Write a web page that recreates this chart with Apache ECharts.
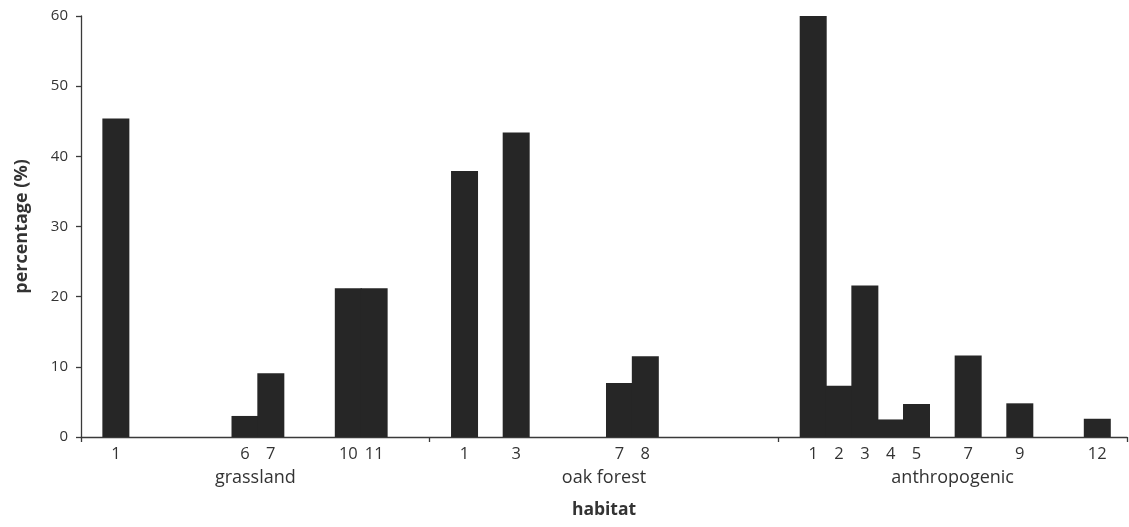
<!DOCTYPE html>
<html>
<head>
<meta charset="utf-8">
<script src="https://cdn.jsdelivr.net/npm/echarts@6/dist/echarts.min.js"></script>
<style>
html,body{margin:0;padding:0;background:#fff;}
#chart{width:1129px;height:527px;}
</style>
</head>
<body>
<div id="chart"></div>
<script>
// ---- data ----
const groups = ['grassland', 'oak forest', 'anthropogenic'];
const grasslandCats = [1, 6, 7, 10, 11];
const grasslandVals = [45.4, 3.0, 9.1, 21.2, 21.2];
const oakCats = [1, 3, 7, 8];
const oakVals = [37.9, 43.4, 7.7, 11.5];
const anthroCats = [1, 2, 3, 4, 5, 7, 9, 12];
const anthroVals = [60.0, 7.3, 21.6, 2.5, 4.7, 11.6, 4.8, 2.6];
const yTicks = [0, 10, 20, 30, 40, 50, 60];

// ---- layout of slots along the habitat axis ----
const GROUP_SPAN = 13.5;   // slots per habitat group
const SLOT_OFFSET = 0.35;  // offset of slot k inside its group
const catLists = [grasslandCats, oakCats, anthroCats];
const valLists = [grasslandVals, oakVals, anthroVals];

const barData = [];
catLists.forEach((cats, g) => {
  cats.forEach((k, i) => {
    barData.push({ value: [g * GROUP_SPAN + k + SLOT_OFFSET, valLists[g][i]], cat: k });
  });
});

const font = '"Open Sans", "Noto Sans", sans-serif';
const textColor = '#333';
const axisColor = '#3a3a3a';
const barColor = '#262626';

const chart = echarts.init(document.getElementById('chart'), null, { renderer: 'canvas' });
chart.setOption({
  animation: false,
  backgroundColor: '#fff',
  grid: { left: 81, right: 2, top: 16, bottom: 90 },
  xAxis: [
    {
      type: 'value',
      min: 0,
      max: GROUP_SPAN * groups.length,
      show: false,
      splitLine: { show: false }
    },
    {
      type: 'category',
      data: groups,
      position: 'bottom',
      boundaryGap: true,
      axisLine: { show: true, lineStyle: { color: axisColor, width: 1.3 } },
      axisTick: { show: true, length: 5, lineStyle: { color: axisColor, width: 1.3 } },
      axisLabel: { margin: 32, fontSize: 18, color: textColor, fontFamily: font },
      name: 'habitat',
      nameLocation: 'middle',
      nameGap: 64,
      nameTextStyle: { fontSize: 17.5, fontWeight: 'bold', color: textColor, fontFamily: font },
      splitLine: { show: false }
    }
  ],
  yAxis: {
    type: 'value',
    min: yTicks[0],
    max: yTicks[yTicks.length - 1],
    interval: 10,
    axisLine: { show: true, lineStyle: { color: axisColor, width: 1.3 } },
    axisTick: { show: true, length: 5, lineStyle: { color: axisColor, width: 1.3 } },
    axisLabel: { margin: 13, fontSize: 15, color: textColor, fontFamily: font },
    splitLine: { show: false },
    name: 'percentage (%)',
    nameLocation: 'middle',
    nameGap: 50,
    nameRotate: 90,
    nameTextStyle: { fontSize: 18, fontWeight: 'bold', color: textColor, fontFamily: font }
  },
  series: [{
    type: 'bar',
    xAxisIndex: 0,
    data: barData,
    barWidth: 27,
    itemStyle: { color: barColor },
    label: {
      show: true,
      position: 'bottom',
      distance: 9,
      fontSize: 16.5,
      color: textColor,
      fontFamily: font,
      formatter: p => String(p.data.cat)
    }
  }]
});
</script>
</body>
</html>
